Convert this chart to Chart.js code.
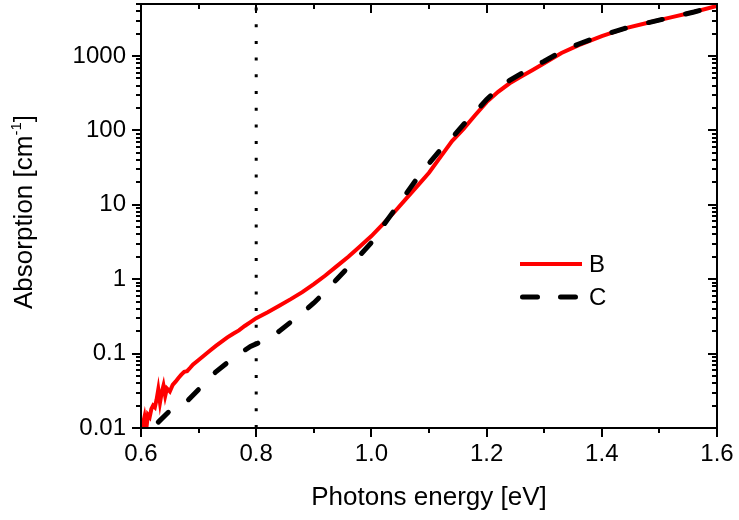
<!DOCTYPE html>
<html lang="en">
<head>
<meta charset="UTF-8">
<title>Absorption</title>
<script src="https://cdn.jsdelivr.net/npm/chart.js"></script>
<style>
  body { margin: 0; background: #fff; }
</style>
</head>
<body>
<canvas id="chart" width="739" height="520"></canvas>
<script>
  // sample B (red, solid)
  const energyB = [0.600, 0.603, 0.606, 0.609, 0.612, 0.615, 0.618, 0.621, 0.624, 0.627,
    0.630, 0.633, 0.636, 0.639, 0.642, 0.645, 0.650, 0.655, 0.660, 0.665,
    0.670, 0.675, 0.680, 0.685, 0.690, 0.700, 0.710, 0.720, 0.730, 0.740,
    0.750, 0.760, 0.770, 0.780, 0.790, 0.800, 0.820, 0.840, 0.860, 0.880,
    0.900, 0.920, 0.940, 0.960, 0.980, 1.000, 1.020, 1.040, 1.060, 1.080,
    1.100, 1.120, 1.140, 1.160, 1.180, 1.200, 1.220, 1.240, 1.260, 1.280,
    1.300, 1.330, 1.360, 1.400, 1.440, 1.480, 1.520, 1.560, 1.600];
  const absorptionB = [0.013, 0.011, 0.014, 0.0095, 0.015, 0.014, 0.018, 0.020, 0.019, 0.024,
    0.033, 0.022, 0.030, 0.037, 0.027, 0.034, 0.031, 0.038, 0.042, 0.047,
    0.052, 0.057, 0.058, 0.064, 0.071, 0.082, 0.095, 0.110, 0.127, 0.145,
    0.165, 0.185, 0.205, 0.235, 0.265, 0.30, 0.36, 0.44, 0.54, 0.67,
    0.86, 1.12, 1.5, 2.0, 2.75, 3.8, 5.5, 8.0, 12, 18,
    27, 44, 72, 105, 160, 240, 330, 430, 530, 650,
    800, 1100, 1400, 1850, 2350, 2800, 3300, 3900, 4700];

  // sample C (black, dashed)
  const energyC = [0.630, 0.650, 0.680, 0.700, 0.730, 0.760, 0.790, 0.800, 0.820, 0.840,
    0.860, 0.880, 0.900, 0.920, 0.940, 0.960, 0.980, 1.000, 1.020, 1.040,
    1.060, 1.080, 1.100, 1.120, 1.140, 1.160, 1.180, 1.200, 1.220, 1.240,
    1.260, 1.280, 1.300, 1.330, 1.360, 1.400, 1.440, 1.480, 1.520, 1.560, 1.600];
  const absorptionC = [0.012, 0.017, 0.023, 0.033, 0.057, 0.087, 0.125, 0.135, 0.16, 0.20,
    0.265, 0.35, 0.48, 0.68, 1.0, 1.45, 2.1, 3.1, 5.2, 8.5,
    14, 23, 36, 55, 80, 120, 175, 260, 360, 470,
    580, 720, 850, 1150, 1450, 1880, 2350, 2800, 3300, 3900, 4700];

  const markerEnergy = 0.8;
  const xTicks = [0.6, 0.8, 1.0, 1.2, 1.4, 1.6];
  const yTicks = [0.01, 0.1, 1, 10, 100, 1000];
  const yMin = 0.01, yMax = 5000;

  const toPoints = (xs, ys) => xs.map((x, i) => ({ x: x, y: ys[i] }));

  Chart.defaults.font.family = '"Liberation Sans", Arial, sans-serif';
  Chart.defaults.color = '#000';

  // box, tick marks, y title and legend
  const decor = {
    id: 'decor',
    afterDraw(chart) {
      const { ctx, chartArea: a, scales: { x, y } } = chart;
      ctx.save();
      ctx.strokeStyle = '#000';
      ctx.lineWidth = 2;
      ctx.strokeRect(a.left, a.top, a.right - a.left, a.bottom - a.top);

      ctx.beginPath();
      for (let i = 0; i <= 10; i++) {
        const px = Math.round(x.getPixelForValue(0.6 + i * 0.1));
        const len = i % 2 === 0 ? 9 : 5;
        ctx.moveTo(px, a.bottom); ctx.lineTo(px, a.bottom + len);
        ctx.moveTo(px, a.top); ctx.lineTo(px, a.top + len);
      }
      for (let e = -2; e <= 3; e++) {
        for (let m = 1; m <= 9; m++) {
          const v = m * Math.pow(10, e);
          if (v > yMax) break;
          const py = Math.round(y.getPixelForValue(v));
          const len = m === 1 ? 9 : 5;
          ctx.moveTo(a.left, py); ctx.lineTo(a.left - len, py);
          ctx.moveTo(a.right, py); ctx.lineTo(a.right - len, py);
        }
      }
      ctx.stroke();

      // y axis title with superscript
      ctx.fillStyle = '#000';
      ctx.textBaseline = 'alphabetic';
      const big = '26px "Liberation Sans", Arial, sans-serif';
      const small = '15px "Liberation Sans", Arial, sans-serif';
      ctx.font = big;
      const w1 = ctx.measureText('Absorption [cm').width;
      const w3 = ctx.measureText(']').width;
      ctx.font = small;
      const w2 = ctx.measureText('-1').width;
      const total = w1 + w2 + w3;
      ctx.translate(32, (a.top + a.bottom) / 2 - 4);
      ctx.rotate(-Math.PI / 2);
      let tx = -total / 2;
      ctx.font = big;
      ctx.fillText('Absorption [cm', tx, 0);
      tx += w1;
      ctx.font = small;
      ctx.fillText('-1', tx, -11);
      tx += w2;
      ctx.font = big;
      ctx.fillText(']', tx, 0);
      ctx.restore();

      // legend
      ctx.save();
      const dsB = chart.data.datasets[1], dsC = chart.data.datasets[0];
      ctx.strokeStyle = dsB.borderColor;
      ctx.lineWidth = dsB.borderWidth;
      ctx.beginPath(); ctx.moveTo(520, 264); ctx.lineTo(582, 264); ctx.stroke();
      ctx.strokeStyle = dsC.borderColor;
      ctx.lineWidth = dsC.borderWidth;
      ctx.lineCap = 'round';
      ctx.setLineDash([15, 23]);
      ctx.beginPath(); ctx.moveTo(522.5, 297); ctx.lineTo(576, 297); ctx.stroke();
      ctx.setLineDash([]);
      ctx.fillStyle = '#000';
      ctx.font = '24px "Liberation Sans", Arial, sans-serif';
      ctx.textBaseline = 'middle';
      ctx.fillText(dsB.label, 589, 265);
      ctx.fillText(dsC.label, 589, 298);
      ctx.restore();
    }
  };

  new Chart(document.getElementById('chart'), {
    type: 'line',
    data: {
      datasets: [
        {
          label: 'C',
          data: toPoints(energyC, absorptionC),
          borderColor: '#000',
          borderWidth: 5,
          borderDash: [14, 24],
          borderCapStyle: 'round',
          pointRadius: 0,
          order: 1
        },
        {
          label: 'B',
          data: toPoints(energyB, absorptionB),
          borderColor: '#ff0000',
          borderWidth: 4,
          pointRadius: 0,
          order: 2
        },
        {
          label: 'marker',
          data: [{ x: markerEnergy, y: yMin }, { x: markerEnergy, y: yMax }],
          borderColor: '#000',
          borderWidth: 3,
          borderDash: [3, 13.7],
          pointRadius: 0,
          order: 3
        }
      ]
    },
    options: {
      responsive: false,
      animation: false,
      layout: { padding: { top: 4, right: 22, left: 0, bottom: 0 } },
      plugins: { legend: { display: false }, tooltip: { enabled: false } },
      scales: {
        x: {
          type: 'linear',
          min: 0.6,
          max: 1.6,
          grid: { display: false, drawTicks: false },
          border: { display: false },
          afterBuildTicks: s => { s.ticks = xTicks.map(v => ({ value: v })); },
          afterFit: s => { s.height = 92; s.paddingLeft = 0; s.paddingRight = 0; },
          ticks: {
            padding: 12,
            maxRotation: 0,
            autoSkip: false,
            font: { size: 24 },
            callback: v => Number(v).toFixed(1)
          },
          title: {
            display: true,
            text: 'Photons energy [eV]',
            font: { size: 26 },
            padding: { top: 7, bottom: 7 }
          }
        },
        y: {
          type: 'logarithmic',
          min: yMin,
          max: yMax,
          grid: { display: false, drawTicks: false },
          border: { display: false },
          afterBuildTicks: s => { s.ticks = yTicks.map(v => ({ value: v })); },
          afterFit: s => { s.width = 141; s.paddingTop = 0; s.paddingBottom = 0; },
          ticks: {
            padding: 15,
            autoSkip: false,
            font: { size: 24 },
            callback: v => String(v)
          }
        }
      }
    },
    plugins: [decor]
  });
</script>
</body>
</html>
